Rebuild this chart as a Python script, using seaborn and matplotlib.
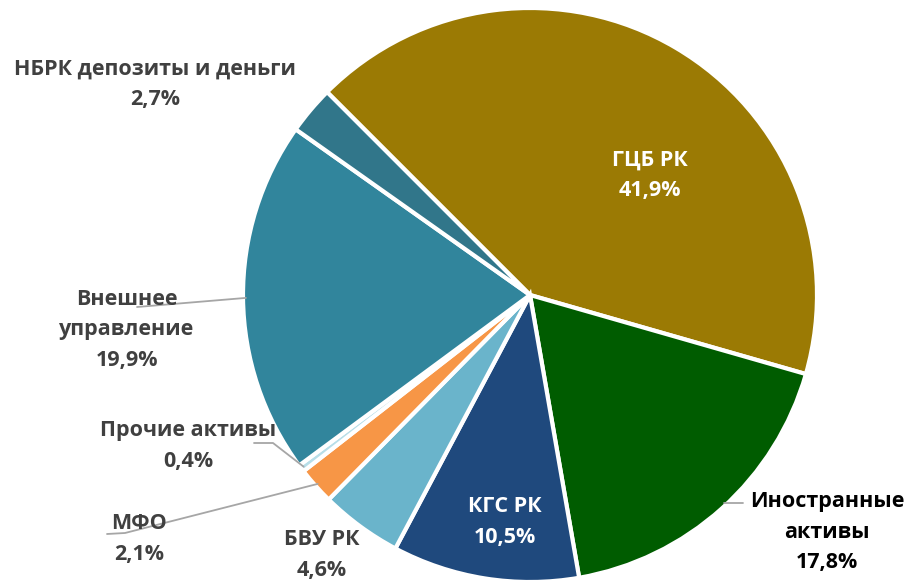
import matplotlib
matplotlib.use("Agg")
import matplotlib.pyplot as plt
import seaborn as sns
import numpy as np

# data
categories = ["ГЦБ РК", "Иностранные\nактивы", "КГС РК", "БВУ РК", "МФО",
              "Прочие активы", "Внешнее\nуправление", "НБРК депозиты и деньги"]
shares = [41.9, 17.8, 10.5, 4.6, 2.1, 0.4, 19.9, 2.7]
colors = ["#9B7A04", "#005C00", "#1F497D", "#6AB4CB", "#F79646",
          "#B7DEE8", "#31859C", "#31768A"]

sns.set_theme(style="white")
plt.rcParams['font.family'] = ['Open Sans', 'DejaVu Sans']

W, H = 907, 586
fig = plt.figure(figsize=(W / 100, H / 100), dpi=100)
ax = fig.add_axes([0, 0, 1, 1])
cx, cy, r = 530, H - 295, 287

wedges, _ = ax.pie(shares, colors=colors, startangle=135, counterclock=False,
                   center=(cx, cy), radius=r,
                   wedgeprops=dict(edgecolor="white", linewidth=3))
ax.set_xlim(0, W)
ax.set_ylim(0, H)
ax.set_aspect("equal")
ax.axis("off")

def pct(v):
    return f"{v:.1f}%".replace(".", ",")

# label placement (pixel coords, y from top), colour, leader points
layout = {
    0: ((650, 175), "white", None),
    1: ((827, 532), "black", [(743, 503), (724, 503)]),
    2: ((505, 522), "white", None),
    3: ((322, 555), "#404040", None),
    4: ((139, 539), "#404040", [(107, 534), (125, 533)]),
    5: ((188, 446), "#404040", [(254, 443), (273, 443)]),
    6: ((127, 330), "#404040", [(137, 307)]),
    7: ((155, 84), "#404040", None),
}

for i, w in enumerate(wedges):
    (lx, ly), col, lead = layout[i]
    ax.text(lx, H - ly, categories[i] + "\n" + pct(shares[i]), ha="center", va="center",
            color=col, fontsize=15.5, fontweight="bold", linespacing=1.6, zorder=3)
    if lead is not None:
        pts = [(x, H - y) for x, y in lead]
        if i != 1:
            ang = np.deg2rad((w.theta1 + w.theta2) / 2)
            pts.append((cx + r * 0.99 * np.cos(ang), cy + r * 0.99 * np.sin(ang)))
        xs, ys = zip(*pts)
        ax.plot(xs, ys, color="#A6A6A6", lw=1.3, zorder=2)

fig.savefig("out.png", dpi=100)
